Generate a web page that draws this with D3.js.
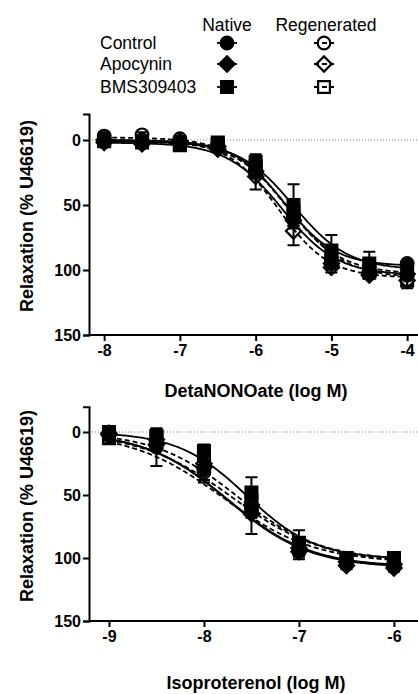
<!DOCTYPE html>
<html>
<head>
<meta charset="utf-8">
<script src="https://cdn.jsdelivr.net/npm/d3@7"></script>
<style>
  body { margin: 0; background: #fff; }
  svg text { font-family: "Liberation Sans", Arial, sans-serif; fill: #000; }
</style>
</head>
<body>
<svg id="chart" width="418" height="694"></svg>
<script>
// legend / series labels
var groups = ["Control", "Apocynin", "BMS309403"]
var conditions = ["Native", "Regenerated"]
var yTicks = [0, 50, 100, 150]

// DetaNONOate panel
var detaDoses = [-8, -7.5, -7, -6.5, -6, -5.5, -5, -4.5, -4]
var detaTicks = [-8, -7, -6, -5, -4]
var detaControlNative = [0, 0, 2, 3, 22, 58, 92, 97, 95]
var detaControlRegen  = [-3, -4, -1, 3, 25, 60, 95, 100, 104]
var detaApoNative     = [2, 3, 2, 7, 24, 62, 95, 102, 103]
var detaApoRegen      = [0, 1, 1, 5, 28, 70, 98, 104, 108]
var detaBmsNative     = [0, 1, 4, 2, 17, 50, 85, 95, 100]
var detaBmsRegen      = [1, 2, 3, 3, 20, 55, 90, 102, 108]
var detaControlNativeErr = [2, 2, 2, 2, 4, 6, 4, 3, 2]
var detaControlRegenErr  = [3, 2, 2, 2, 4, 6, 4, 3, 3]
var detaApoNativeErr     = [2, 2, 2, 2, 4, 6, 4, 3, 3]
var detaApoRegenErr      = [3, 2, 2, 2, 10, 11, 4, 3, 4]
var detaBmsNativeErr     = [2, 2, 3, 2, 6, 16, 12, 9, 4]
var detaBmsRegenErr      = [2, 2, 2, 2, 4, 6, 5, 4, 6]
// sigmoid fit parameters: [bottom, top, logEC50, hill]
var detaFits = [[0, 97, -5.62, 1.3], [-2, 103, -5.6, 1.2], [2, 104, -5.65, 1.2],
                [0, 106, -5.7, 1.3], [1, 100, -5.5, 1.2], [1, 106, -5.55, 1.2]]

// Isoproterenol panel
var isoDoses = [-9, -8.5, -8, -7.5, -7, -6.5, -6]
var isoTicks = [-9, -8, -7, -6]
var isoControlNative = [2, 12, 30, 62, 95, 105, 107]
var isoControlRegen  = [3, 8, 32, 60, 92, 102, 104]
var isoApoNative     = [1, 10, 28, 65, 95, 106, 108]
var isoApoRegen      = [2, 6, 25, 58, 92, 103, 105]
var isoBmsNative     = [0, 3, 15, 48, 88, 100, 100]
var isoBmsRegen      = [5, 4, 18, 55, 90, 100, 102]
var isoControlNativeErr = [2, 15, 8, 6, 4, 3, 3]
var isoControlRegenErr  = [2, 4, 8, 6, 4, 3, 3]
var isoApoNativeErr     = [2, 4, 6, 16, 6, 3, 3]
var isoApoRegenErr      = [2, 4, 6, 6, 4, 3, 3]
var isoBmsNativeErr     = [2, 3, 5, 12, 10, 4, 4]
var isoBmsRegenErr      = [4, 3, 5, 6, 4, 3, 3]
var isoFits = [[0, 107, -7.75, 1.0], [0, 104, -7.8, 0.9], [0, 108, -7.75, 1.0],
               [0, 104, -7.7, 0.9], [0, 101, -7.55, 1.2], [0, 102, -7.65, 1.0]]

var shapes = ["circle", "diamond", "square"]

var svg = d3.select("#chart")

function markerPath(shape){
  if (shape == "circle") return d3.symbol(d3.symbolCircle, 125)()
  return d3.symbol(d3.symbolSquare, shape == "square" ? 140 : 115)()
}

function drawMarker(g, shape, filled, cx, cy){
  g.append("path")
    .attr("d", markerPath(shape))
    .attr("transform", "translate(" + cx + "," + cy + ")" + (shape == "diamond" ? " rotate(45)" : ""))
    .attr("fill", filled ? "#000" : "none")
    .attr("stroke", "#000")
    .attr("stroke-width", 2.2)
}

function sigmoid(p, xv){
  return p[0] + (p[1] - p[0]) / (1 + Math.pow(10, (p[2] - xv) * p[3]))
}

function drawPanel(params){
  var x = d3.scaleLinear().domain(params.xDomain).range([89, params.xRight])
  var y = d3.scaleLinear().domain([-20, 150]).range([params.yTop, params.yBottom])
  var g = svg.append("g")

  // dotted zero line
  g.append("line")
    .attr("x1", 89).attr("x2", 418)
    .attr("y1", y(0)).attr("y2", y(0))
    .attr("stroke", "#777").attr("stroke-width", 1)
    .attr("stroke-dasharray", "1,2")

  var yAxis = d3.axisLeft(y).tickValues(yTicks).tickSize(6).tickPadding(2)
  var xAxis = d3.axisBottom(x).tickValues(params.ticks).tickSize(6).tickPadding(4)
    .tickFormat(d3.format("d"))

  var ya = g.append("g").attr("transform", "translate(89,0)").call(yAxis)
  var xa = g.append("g").attr("transform", "translate(0," + y(150) + ")").call(xAxis)
  ;[ya, xa].forEach(function(a){
    a.select(".domain").attr("stroke-width", 2).attr("stroke", "#000")
    a.selectAll(".tick line").attr("stroke-width", 2).attr("stroke", "#000")
    a.selectAll(".tick text").attr("font-size", 16).attr("font-weight", "bold")
      .attr("font-family", "Liberation Sans, Arial, sans-serif").attr("fill", "#000")
  })
  xa.select(".domain").attr("d", "M89,0H418")
  xa.selectAll(".tick text").text(function(d){ return "-" + Math.abs(d) })

  // fitted curves
  var xs = d3.range(params.doses[0], params.doses[params.doses.length - 1] + 0.001, 0.02)
  var line = d3.line().x(function(d){ return x(d[0]) }).y(function(d){ return y(d[1]) })
  params.fits.forEach(function(p, i){
    g.append("path")
      .datum(xs.map(function(v){ return [v, sigmoid(p, v)] }))
      .attr("d", line)
      .attr("fill", "none").attr("stroke", "#000").attr("stroke-width", 1.8)
      .attr("stroke-dasharray", i % 2 ? "5,3" : null)
  })

  // error bars
  params.series.forEach(function(s, i){
    s.forEach(function(v, j){
      var e = params.errs[i][j]
      var cx = x(params.doses[j])
      g.append("path")
        .attr("d", "M" + cx + "," + y(v - e) + "V" + y(v + e) +
                   "M" + (cx - 6) + "," + y(v - e) + "H" + (cx + 6) +
                   "M" + (cx - 6) + "," + y(v + e) + "H" + (cx + 6))
        .attr("stroke", "#000").attr("stroke-width", 2).attr("fill", "none")
    })
  })

  // markers
  params.series.forEach(function(s, i){
    s.forEach(function(v, j){
      drawMarker(g, shapes[Math.floor(i / 2)], i % 2 == 0, x(params.doses[j]), y(v))
    })
  })

  g.append("text")
    .attr("transform", "translate(33," + params.titleY + ") rotate(-90)")
    .attr("text-anchor", "middle")
    .attr("font-size", 18).attr("font-weight", "bold")
    .text("Relaxation (% U46619)")

  g.append("text")
    .attr("x", 256).attr("y", params.xTitleY)
    .attr("text-anchor", "middle")
    .attr("font-size", 18).attr("font-weight", "bold")
    .text(params.xTitle)
}

drawPanel({
  xDomain: [-8.2, -3.7], xRight: 89 + 4.5 * 75.75,
  yTop: 114, yBottom: 335, ticks: detaTicks, doses: detaDoses,
  series: [detaControlNative, detaControlRegen, detaApoNative, detaApoRegen, detaBmsNative, detaBmsRegen],
  errs: [detaControlNativeErr, detaControlRegenErr, detaApoNativeErr, detaApoRegenErr, detaBmsNativeErr, detaBmsRegenErr],
  fits: detaFits, titleY: 216, xTitle: "DetaNONOate (log M)", xTitleY: 397
})

drawPanel({
  xDomain: [-9.21, -5.7], xRight: 89 + 3.51 * 95,
  yTop: 406.8, yBottom: 621, ticks: isoTicks, doses: isoDoses,
  series: [isoControlNative, isoControlRegen, isoApoNative, isoApoRegen, isoBmsNative, isoBmsRegen],
  errs: [isoControlNativeErr, isoControlRegenErr, isoApoNativeErr, isoApoRegenErr, isoBmsNativeErr, isoBmsRegenErr],
  fits: isoFits, titleY: 506, xTitle: "Isoproterenol (log M)", xTitleY: 689
})

// legend
var legend = svg.append("g")
var colX = [227, 324]
conditions.forEach(function(c, i){
  legend.append("text").attr("x", colX[i] + (i ? 2 : 0)).attr("y", 31)
    .attr("text-anchor", "middle").attr("font-size", 17.5).text(c)
})
var rowY = [43, 64, 87]
groups.forEach(function(gname, r){
  legend.append("text").attr("x", 100).attr("y", rowY[r] + 6)
    .attr("font-size", 17.5).text(gname)
  conditions.forEach(function(c, i){
    legend.append("line")
      .attr("x1", colX[i] - 10).attr("x2", colX[i] + 10)
      .attr("y1", rowY[r]).attr("y2", rowY[r])
      .attr("stroke", "#000").attr("stroke-width", 1.8)
      .attr("stroke-dasharray", i ? "5,3" : null)
    drawMarker(legend, shapes[r], i == 0, colX[i], rowY[r])
  })
})
</script>
</body>
</html>
